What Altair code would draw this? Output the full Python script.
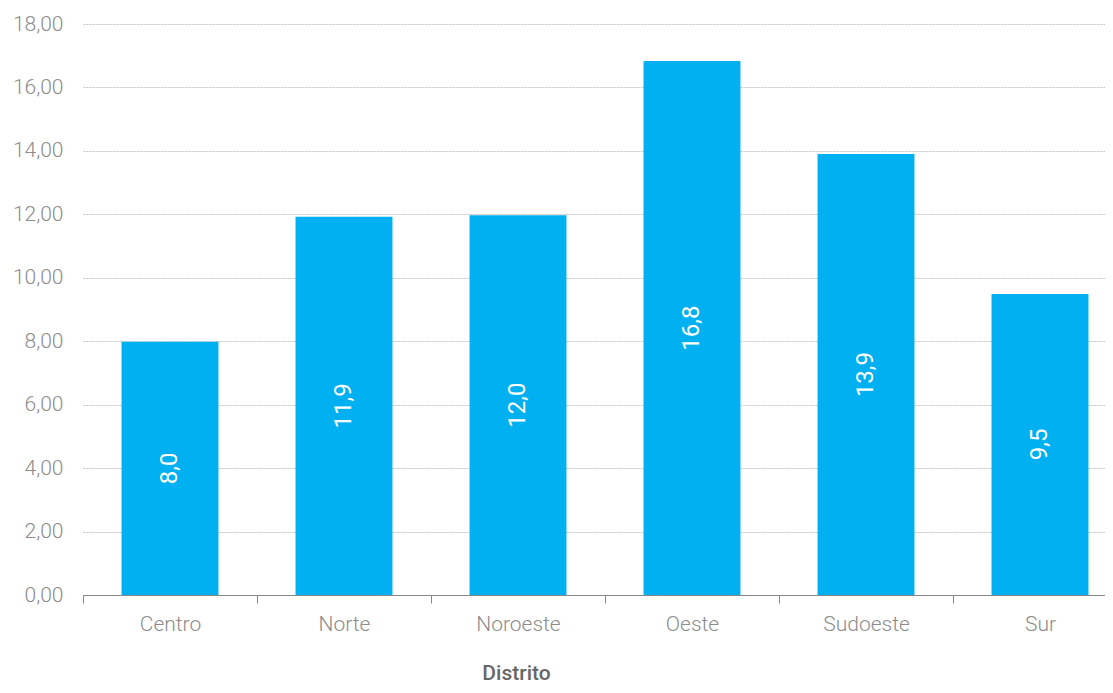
import altair as alt
import pandas as pd

distritos = ["Centro", "Norte", "Noroeste", "Oeste", "Sudoeste", "Sur"]
valores = [7.98, 11.92, 11.97, 16.83, 13.9, 9.49]
etiquetas = ["8,0", "11,9", "12,0", "16,8", "13,9", "9,5"]

df = pd.DataFrame({"Distrito": distritos, "Valor": valores, "Etiqueta": etiquetas})
df["Mitad"] = df["Valor"] / 2

FONT = "Roboto"

x_scale = alt.Scale(paddingInner=0, paddingOuter=0, range=[0, 1044])

x = alt.X(
    "Distrito:N",
    sort=distritos,
    scale=x_scale,
    axis=alt.Axis(
        title="Distrito",
        titleX=433,
        titleY=84,
        titleAnchor="middle",
        titleAlign="center",
        titleBaseline="alphabetic",
        titleFont=FONT,
        titleFontSize=21,
        titleFontWeight=500,
        titleColor="#666666",
        labelAngle=0,
        labelFont=FONT,
        labelFontSize=21,
        labelFontWeight=300,
        labelColor="#8c8c8c",
        labelPadding=10,
        tickBand="extent",
        tickSize=8,
        tickColor="#888888",
        domainColor="#888888",
        grid=False,
    ),
)

bars = alt.Chart(df).mark_bar(color="#00B0F0", width=alt.RelativeBandSize(0.557)).encode(
    x=x,
    y=alt.Y(
        "Valor:Q",
        scale=alt.Scale(domain=[0, 18]),
        axis=alt.Axis(
            title=None,
            values=[0, 2, 4, 6, 8, 10, 12, 14, 16, 18],
            labelExpr="replace(format(datum.value, '.2f'), '.', ',')",
            labelFont=FONT,
            labelFontSize=21,
            labelFontWeight=300,
            labelColor="#8c8c8c",
            labelPadding=20,
            domain=False,
            ticks=False,
            grid=True,
            gridColor="#c4c4c4",
            gridDash=[2, 1],
            gridWidth=1,
        ),
    ),
)

text = alt.Chart(df).mark_text(
    angle=270, color="white", font=FONT, fontSize=24, align="center", baseline="middle"
).encode(
    x=alt.X("Distrito:N", sort=distritos, scale=x_scale),
    y=alt.Y("Mitad:Q"),
    text="Etiqueta:N",
)

chart = (
    alt.layer(bars, text)
    .properties(
        width=1022,
        height=571,
        padding={"left": 75, "top": 16, "right": 0, "bottom": 90},
        autosize=alt.AutoSizeParams(type="none"),
    )
    .configure_view(stroke=None)
)

chart.save("out.html", embed_options={"renderer": "svg", "actions": False})
